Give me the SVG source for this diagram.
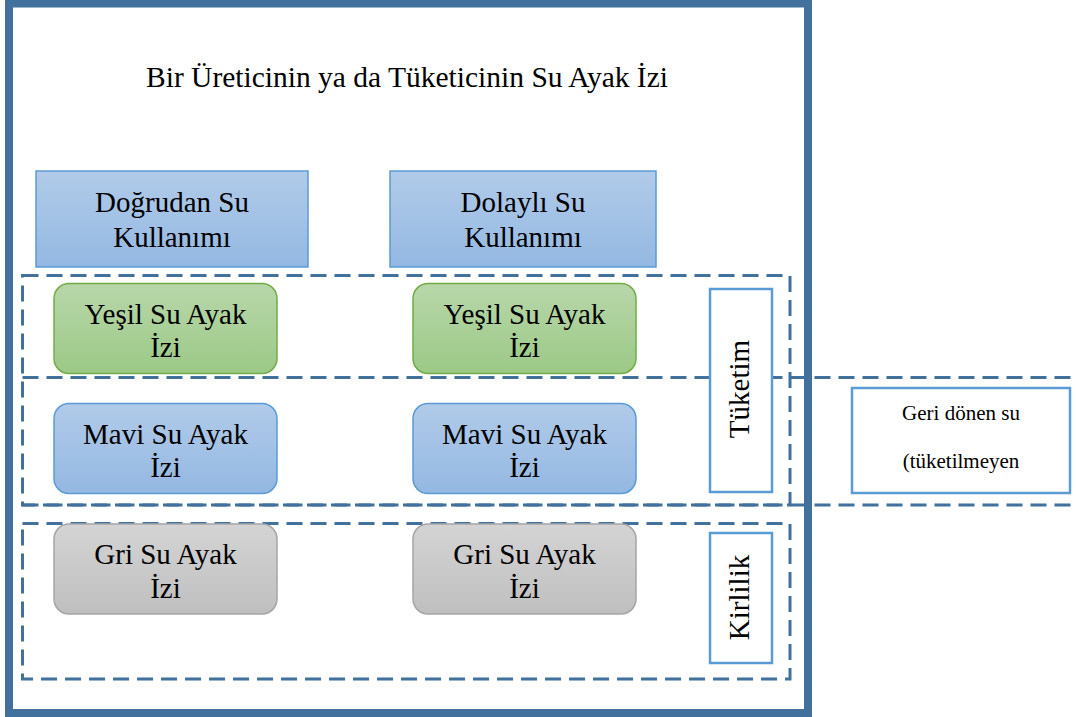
<svg xmlns="http://www.w3.org/2000/svg" width="1076" height="717" viewBox="0 0 1076 717">
<defs>
<linearGradient id="gBlue" x1="0" y1="0" x2="0" y2="1"><stop offset="0" stop-color="#b1cbe9"/><stop offset="1" stop-color="#94b8e2"/></linearGradient>
<linearGradient id="gGreen" x1="0" y1="0" x2="0" y2="1"><stop offset="0" stop-color="#b8d7aa"/><stop offset="1" stop-color="#9cc987"/></linearGradient>
<linearGradient id="gGray" x1="0" y1="0" x2="0" y2="1"><stop offset="0" stop-color="#d4d4d4"/><stop offset="1" stop-color="#bfbfbf"/></linearGradient>
<style>
.t{font-family:"Liberation Serif","Times New Roman",serif;font-size:29px;fill:#000;text-anchor:middle}
.s{font-family:"Liberation Serif","Times New Roman",serif;font-size:21px;fill:#000;text-anchor:middle}
.dash{fill:none;stroke:#41719c;stroke-width:3;stroke-dasharray:16 8}
.blue{fill:url(#gBlue);stroke:#5b9bd5;stroke-width:1.5}
.green{fill:url(#gGreen);stroke:#70ad47;stroke-width:1.5}
.gray{fill:url(#gGray);stroke:#a5a5a5;stroke-width:1.5}
.lbl{fill:#fff;stroke:#5b9bd5;stroke-width:2.5}
</style>
</defs>
<rect width="1076" height="717" fill="#fff"/>
<g id="frame">
<rect x="9" y="3.5" width="799" height="709.5" fill="none" stroke="#41719c" stroke-width="8"/>
<text class="t" x="407" y="87" textLength="522" lengthAdjust="spacingAndGlyphs">Bir Üreticinin ya da Tüketicinin Su Ayak İzi</text>
</g>
<g id="groups">
<rect class="dash" x="22.5" y="275.5" width="767.5" height="229.5"/>
<path class="dash" d="M22.5 377.5 H1080 M22.5 505 H1080"/>
<rect class="dash" x="22.5" y="523.5" width="767.5" height="155.5"/>
</g>
<g id="direct">
<rect class="blue" x="36" y="171" width="272" height="96"/>
<text class="t" x="172" y="212">Doğrudan Su</text>
<text class="t" x="172" y="247">Kullanımı</text>
</g>
<g id="indirect">
<rect class="blue" x="390" y="171" width="266" height="96"/>
<text class="t" x="523" y="212">Dolaylı Su</text>
<text class="t" x="523" y="247">Kullanımı</text>
</g>
<g id="green1">
<rect class="green" x="54" y="283.5" width="223" height="90" rx="15"/>
<text class="t" x="165.5" y="324">Yeşil Su Ayak</text>
<text class="t" x="165.5" y="357">İzi</text>
</g>
<g id="green2">
<rect class="green" x="413" y="283.5" width="223" height="90" rx="15"/>
<text class="t" x="524.5" y="324">Yeşil Su Ayak</text>
<text class="t" x="524.5" y="357">İzi</text>
</g>
<g id="blue1">
<rect class="blue" x="54" y="403.5" width="223" height="90" rx="15"/>
<text class="t" x="165.5" y="444">Mavi Su Ayak</text>
<text class="t" x="165.5" y="477">İzi</text>
</g>
<g id="blue2">
<rect class="blue" x="413" y="403.5" width="223" height="90" rx="15"/>
<text class="t" x="524.5" y="444">Mavi Su Ayak</text>
<text class="t" x="524.5" y="477">İzi</text>
</g>
<g id="gray1">
<rect class="gray" x="54" y="524" width="223" height="90" rx="15"/>
<text class="t" x="165.5" y="564">Gri Su Ayak</text>
<text class="t" x="165.5" y="598">İzi</text>
</g>
<g id="gray2">
<rect class="gray" x="413" y="524" width="223" height="90" rx="15"/>
<text class="t" x="524.5" y="564">Gri Su Ayak</text>
<text class="t" x="524.5" y="598">İzi</text>
</g>
<g id="tuketim">
<rect class="lbl" x="710" y="289" width="62" height="203"/>
<text class="t" transform="translate(749 389) rotate(-90)">Tüketim</text>
</g>
<g id="kirlilik">
<rect class="lbl" x="710" y="533" width="62" height="130"/>
<text class="t" transform="translate(749 597.5) rotate(-90)">Kirlilik</text>
</g>
<g id="geri">
<rect class="lbl" x="852" y="388" width="218" height="105"/>
<text class="s" x="961" y="420">Geri dönen su</text>
<text class="s" x="961" y="468">(tüketilmeyen</text>
</g>
</svg>
